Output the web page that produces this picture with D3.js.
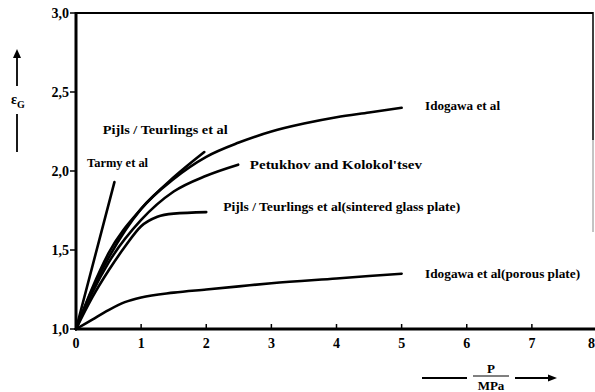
<!DOCTYPE html>
<html>
<head>
<meta charset="utf-8">
<script src="https://cdn.jsdelivr.net/npm/d3@7"></script>
<style>
  body { margin: 0; background: #fff; }
  text { font-family: "Liberation Serif", serif; font-weight: bold; fill: #000; }
</style>
</head>
<body>
<div id="chart"></div>
<script>
// curves: [P in MPa, gas holdup]
const tarmy = [[0, 1], [0.59, 1.93]];
const pijlsTop = [[0, 1], [0.25, 1.26], [0.5, 1.48], [1, 1.76], [1.5, 1.96], [1.97, 2.12]];
const idogawa = [[0, 1], [0.25, 1.25], [0.5, 1.45], [1, 1.76], [1.5, 1.95], [2, 2.09], [2.5, 2.18],
  [3, 2.25], [3.5, 2.30], [4, 2.34], [4.5, 2.37], [5, 2.40]];
const petukhov = [[0, 1], [0.25, 1.23], [0.5, 1.42], [1, 1.69], [1.5, 1.87], [2, 1.97], [2.49, 2.04]];
const sintered = [[0, 1], [0.25, 1.2], [0.5, 1.37], [0.75, 1.52], [1, 1.65], [1.25, 1.71],
  [1.5, 1.73], [2, 1.74]];
const porous = [[0, 1], [0.25, 1.06], [0.5, 1.12], [0.75, 1.17], [1, 1.2], [1.5, 1.23], [2, 1.25],
  [2.5, 1.27], [3, 1.29], [4, 1.32], [5, 1.35]];

const xTicks = [0, 1, 2, 3, 4, 5, 6, 7, 8];
const yTicks = [1.0, 1.5, 2.0, 2.5, 3.0];
const yTickLabels = ["1,0", "1,5", "2,0", "2,5", "3,0"];

// curve labels (x, y in data units, w = printed width)
const labels = [
  { text: "Tarmy et al", x: 0.17, y: 2.05, w: 61 },
  { text: "Pijls / Teurlings et al", x: 0.41, y: 2.26, w: 125 },
  { text: "Idogawa et al", x: 5.36, y: 2.41, w: 75 },
  { text: "Petukhov and Kolokol'tsev", x: 2.67, y: 2.04, w: 172 },
  { text: "Pijls / Teurlings et al(sintered glass plate)", x: 2.26, y: 1.77, w: 237 },
  { text: "Idogawa et al(porous plate)", x: 5.36, y: 1.35, w: 155 }
];

const width = 595, height = 392;

const svg = d3.select("#chart").append("svg")
    .attr("width", width)
    .attr("height", height);

const x = d3.scaleLinear().domain([0, 8]).range([76, 597]);
const y = d3.scaleLinear().domain([1, 3]).range([329, 13]);

// frame
svg.append("line")
    .attr("x1", 76).attr("x2", 593).attr("y1", y(3)).attr("y2", y(3))
    .attr("stroke", "#000").attr("stroke-width", 2);
svg.append("line")
    .attr("x1", 593).attr("x2", 593).attr("y1", y(3) - 1).attr("y2", 140)
    .attr("stroke", "#000").attr("stroke-width", 1.5);
svg.append("line")
    .attr("x1", 593).attr("x2", 593).attr("y1", 140).attr("y2", 232)
    .attr("stroke", "#888").attr("stroke-width", 1);

// y axis
const yAxis = svg.append("g");
yAxis.append("line")
    .attr("x1", 76).attr("x2", 76).attr("y1", y(3) - 1).attr("y2", y(1) + 1)
    .attr("stroke", "#000").attr("stroke-width", 3);
yAxis.selectAll(".ytick")
    .data(yTicks)
    .join("line")
    .attr("x1", 70).attr("x2", 76)
    .attr("y1", d => y(d)).attr("y2", d => y(d))
    .attr("stroke", "#000").attr("stroke-width", 1.5);
yAxis.selectAll(".ylab")
    .data(yTicks)
    .join("text")
    .attr("x", 69)
    .attr("y", d => y(d) + 5)
    .attr("text-anchor", "end")
    .style("font-size", "14px")
    .text((d, i) => yTickLabels[i]);

// x axis
const xAxis = svg.append("g");
xAxis.append("line")
    .attr("x1", 75).attr("x2", 595).attr("y1", y(1)).attr("y2", y(1))
    .attr("stroke", "#000").attr("stroke-width", 3);
xAxis.selectAll(".xtick")
    .data(xTicks.slice(1))
    .join("line")
    .attr("x1", d => x(d)).attr("x2", d => x(d))
    .attr("y1", y(1)).attr("y2", y(1) - 5)
    .attr("stroke", "#000").attr("stroke-width", 1.5);
xAxis.selectAll(".xlab")
    .data(xTicks)
    .join("text")
    .attr("x", d => d === 8 ? 595 : x(d))
    .attr("y", 348)
    .attr("text-anchor", d => d === 8 ? "end" : "middle")
    .style("font-size", "14px")
    .text(d => d);

// curves
const line = d3.line()
    .x(d => x(d[0]))
    .y(d => y(d[1]))
    .curve(d3.curveMonotoneX);

svg.selectAll(".curve")
    .data([tarmy, pijlsTop, idogawa, petukhov, sintered, porous])
    .join("path")
    .attr("d", line)
    .attr("fill", "none")
    .attr("stroke", "#000")
    .attr("stroke-width", 2.6)
    .attr("stroke-linecap", "round");

svg.selectAll(".lab")
    .data(labels)
    .join("text")
    .attr("x", d => x(d.x))
    .attr("y", d => y(d.y) + 4)
    .attr("textLength", d => d.w)
    .attr("lengthAdjust", "spacingAndGlyphs")
    .style("font-size", "12px")
    .text(d => d.text);

// y axis title: arrow up, epsilon_G, line down
const yTitle = svg.append("g");
yTitle.append("line")
    .attr("x1", 17).attr("x2", 17).attr("y1", 56).attr("y2", 86)
    .attr("stroke", "#000").attr("stroke-width", 1.8);
yTitle.append("path")
    .attr("d", "M13,58 L17,49 L21,58 Z")
    .attr("fill", "#000");
const eps = yTitle.append("text")
    .attr("x", 11).attr("y", 104)
    .style("font-size", "14px");
eps.append("tspan").text("ε");
eps.append("tspan").attr("dy", 4).style("font-size", "10px").text("G");
yTitle.append("line")
    .attr("x1", 17).attr("x2", 17).attr("y1", 114).attr("y2", 152)
    .attr("stroke", "#000").attr("stroke-width", 1.8);

// x axis title: P / MPa with arrows
const xTitle = svg.append("g");
xTitle.append("line")
    .attr("x1", 422).attr("x2", 467).attr("y1", 378).attr("y2", 378)
    .attr("stroke", "#000").attr("stroke-width", 1.8);
xTitle.append("line")
    .attr("x1", 515).attr("x2", 550).attr("y1", 378).attr("y2", 378)
    .attr("stroke", "#000").attr("stroke-width", 1.8);
xTitle.append("path")
    .attr("d", "M548,374.5 L557,378 L548,381.5 Z")
    .attr("fill", "#000");
xTitle.append("text")
    .attr("x", 491).attr("y", 373)
    .attr("text-anchor", "middle")
    .style("font-size", "13px")
    .text("P");
xTitle.append("line")
    .attr("x1", 473).attr("x2", 509).attr("y1", 376).attr("y2", 376)
    .attr("stroke", "#000").attr("stroke-width", 1);
xTitle.append("text")
    .attr("x", 491).attr("y", 390)
    .attr("text-anchor", "middle")
    .style("font-size", "13px")
    .text("MPa");
</script>
</body>
</html>
